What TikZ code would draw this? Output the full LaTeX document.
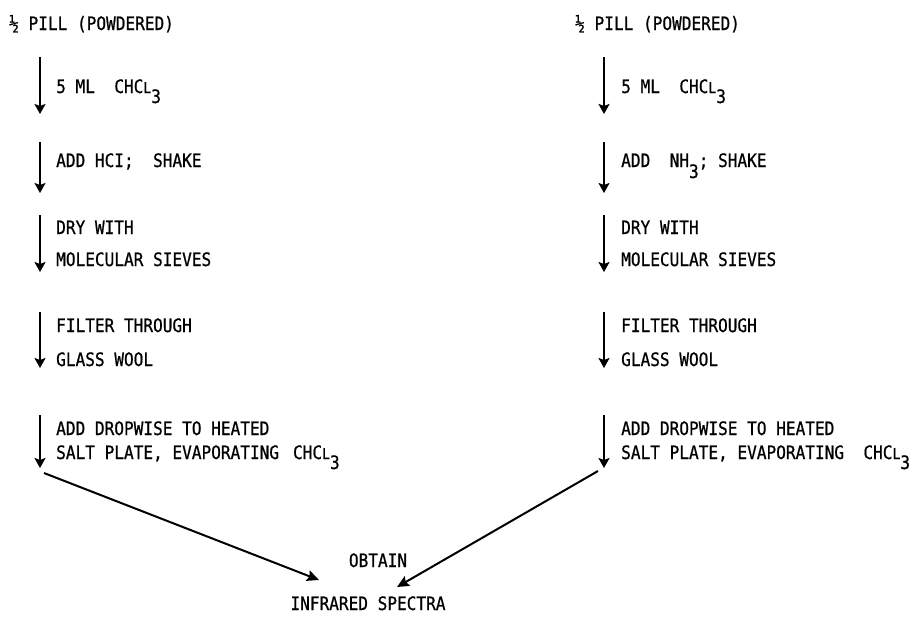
\documentclass[tikz,border=0pt]{standalone}
\usepackage{fontspec}
\usetikzlibrary{arrows.meta}
\newfontfamily\twfont{DejaVu Sans Mono}[FakeStretch=0.87,FakeBold=0.7]
\newcommand\chclsym{CHC{\fontsize{15}{15}\selectfont L}\raisebox{-10pt}{3}}
\newcommand\nhsym{NH\raisebox{-11pt}{3}}
\tikzset{
  lbl/.style={anchor=base west, inner sep=0pt, font=\twfont\fontsize{18.5}{20}\selectfont},
  ctr/.style={anchor=base, inner sep=0pt, font=\twfont\fontsize{18.5}{20}\selectfont},
  flow/.style={line width=2.2pt, -{Stealth[length=10pt,width=11pt,inset=2pt]}},
  diag/.style={line width=2pt, -{Stealth[length=12pt,width=11pt,inset=2pt]}}
}
\begin{document}
\begin{tikzpicture}[x=1pt,y=-1pt]
\useasboundingbox[fill=white] (0,0) rectangle (917,619);
% ---------- left column ----------
\node[lbl] (lt) at (9,30) {½ PILL (POWDERED)};
\coordinate (la1) at (40,57);  \coordinate (lb1) at (40,114);
\coordinate (la2) at (40,142); \coordinate (lb2) at (40,193);
\coordinate (la3) at (40,215); \coordinate (lb3) at (40,272);
\coordinate (la4) at (40,312); \coordinate (lb4) at (40,368);
\coordinate (la5) at (40,415); \coordinate (lb5) at (40,468);
\draw[flow] (la1) -- (lb1);
\draw[flow] (la2) -- (lb2);
\draw[flow] (la3) -- (lb3);
\draw[flow] (la4) -- (lb4);
\draw[flow] (la5) -- (lb5);
\node[lbl] (l1) at (56,93) {5 ML\ \ \chclsym};
\node[lbl] (l2) at (56,167) {ADD HCI;\ \ SHAKE};
\node[lbl] (l3a) at (56,234) {DRY WITH};
\node[lbl] (l3b) at (56,266) {MOLECULAR SIEVES};
\node[lbl] (l4a) at (56,332) {FILTER THROUGH};
\node[lbl] (l4b) at (56,366) {GLASS WOOL};
\node[lbl] (l5a) at (56,435) {ADD DROPWISE TO HEATED};
\node[lbl] (l5b) at (56,459) {SALT PLATE, EVAPORATING\hspace{14pt}\chclsym};
% ---------- right column ----------
\node[lbl] (rt) at (575,30) {½ PILL (POWDERED)};
\coordinate (ra1) at (604,57);  \coordinate (rb1) at (604,114);
\coordinate (ra2) at (604,142); \coordinate (rb2) at (604,193);
\coordinate (ra3) at (604,215); \coordinate (rb3) at (604,272);
\coordinate (ra4) at (604,312); \coordinate (rb4) at (604,368);
\coordinate (ra5) at (604,415); \coordinate (rb5) at (604,468);
\draw[flow] (ra1) -- (rb1);
\draw[flow] (ra2) -- (rb2);
\draw[flow] (ra3) -- (rb3);
\draw[flow] (ra4) -- (rb4);
\draw[flow] (ra5) -- (rb5);
\node[lbl] (r1) at (621,93) {5 ML\ \ \chclsym};
\node[lbl] (r2) at (621,167) {ADD\ \ \nhsym; SHAKE};
\node[lbl] (r3a) at (621,234) {DRY WITH};
\node[lbl] (r3b) at (621,266) {MOLECULAR SIEVES};
\node[lbl] (r4a) at (621,332) {FILTER THROUGH};
\node[lbl] (r4b) at (621,366) {GLASS WOOL};
\node[lbl] (r5a) at (621,435) {ADD DROPWISE TO HEATED};
\node[lbl] (r5b) at (621,459) {SALT PLATE, EVAPORATING\ \ \chclsym};
% ---------- result ----------
\node[ctr] (obt) at (378,567) {OBTAIN};
\node[ctr] (ir) at (368,610) {INFRARED SPECTRA};
\coordinate (ld) at (44,473);
\coordinate (le) at (319,580);
\coordinate (rd) at (598,471);
\coordinate (re) at (397,587);
\draw[diag] (ld) -- (le);
\draw[diag] (rd) -- (re);
\end{tikzpicture}
\end{document}
